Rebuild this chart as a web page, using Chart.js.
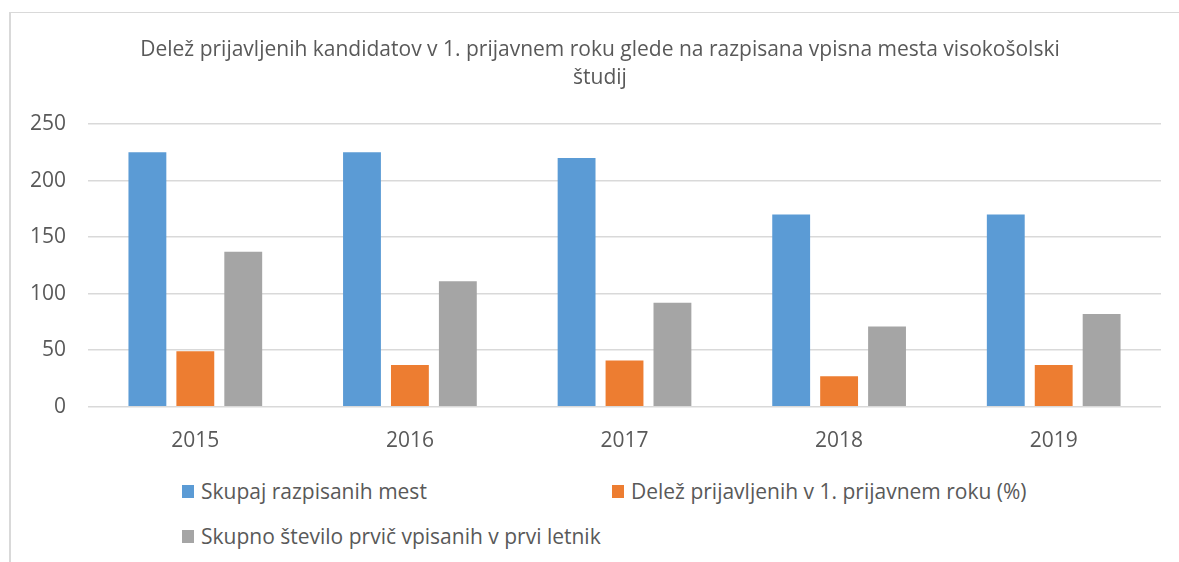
<!DOCTYPE html>
<html>
<head>
<meta charset="utf-8">
<script src="https://cdn.jsdelivr.net/npm/chart.js@4.4.1/dist/chart.umd.min.js"></script>
<style>
    html, body { margin: 0; padding: 0; background: #fff; }
    body { width: 1179px; height: 562px; position: relative; overflow: hidden; font-family: "Open Sans", sans-serif; }
    #frame { position: absolute; left: 9px; top: 12px; right: 0; bottom: -5px; border-left: 2px solid #d9d9d9; border-top: 1px solid #d9d9d9; }
    #title { position: absolute; left: 0; top: 34px; width: 1200px; text-align: center; color: #595959; font-size: 21px; line-height: 28px; }
    #wrap { position: absolute; left: 0; top: 0; width: 1179px; height: 468px; }
    #legend { position: absolute; left: 182px; top: 477px; width: 900px; display: grid; grid-template-columns: 430px 470px; row-gap: 17px; color: #595959; font-size: 21px; }
    .item { display: flex; align-items: center; white-space: nowrap; }
    .box { width: 12px; height: 13px; margin-right: 7px; }
</style>
</head>
<body>
<div id="frame"></div>
<div id="wrap"><canvas id="chart"></canvas></div>
<div id="title"></div>
<div id="legend"></div>
<script>
// Podatki
const years = ['2015', '2016', '2017', '2018', '2019'];
const razpisanaMesta = [225, 225, 220, 170, 170];
const delezPrijavljenih = [49, 37, 41, 27, 37];
const prvicVpisani = [137, 111, 92, 71, 82];
const seriesLabels = [
    'Skupaj razpisanih mest',
    'Delež prijavljenih v 1. prijavnem roku (%)',
    'Skupno število prvič vpisanih v prvi letnik'
];
const seriesColors = ['#5b9bd5', '#ed7d31', '#a5a5a5'];
const yTicks = [0, 50, 100, 150, 200, 250];
const titleLines = [
    'Delež prijavljenih kandidatov v 1. prijavnem roku glede na razpisana vpisna mesta visokošolski',
    'študij'
];

const textColor = '#595959';
const gridColor = '#d9d9d9';

const makeDataset = (i, values) => ({
    label: seriesLabels[i],
    data: values,
    backgroundColor: seriesColors[i],
    borderWidth: 0,
    categoryPercentage: 0.67,
    barPercentage: 0.79
});

const ctx = document.getElementById('chart');
new Chart(ctx, {
    type: 'bar',
    data: {
        labels: years,
        datasets: [
            makeDataset(0, razpisanaMesta),
            makeDataset(1, delezPrijavljenih),
            makeDataset(2, prvicVpisani)
        ]
    },
    options: {
        responsive: true,
        maintainAspectRatio: false,
        animation: false,
        layout: { padding: { left: 8, right: 18, top: 124, bottom: 0 } },
        plugins: {
            legend: { display: false },
            tooltip: { enabled: false },
            title: { display: false }
        },
        scales: {
            x: {
                grid: { display: false },
                border: { display: false },
                ticks: {
                    color: textColor,
                    font: { family: '"Open Sans", sans-serif', size: 21 },
                    padding: 14
                }
            },
            y: {
                min: 0,
                max: 250,
                afterBuildTicks: (axis) => { axis.ticks = yTicks.map(v => ({ value: v })); },
                grid: { color: gridColor, lineWidth: 1.5, drawTicks: false },
                border: { display: false },
                ticks: {
                    color: textColor,
                    font: { family: '"Open Sans", sans-serif', size: 21 },
                    padding: 22
                }
            }
        }
    }
});

// Naslov
document.getElementById('title').innerHTML = titleLines.join('<br>');

// Legenda
const legend = document.getElementById('legend');
seriesLabels.forEach((label, i) => {
    const item = document.createElement('div');
    item.className = 'item';
    item.innerHTML = `<span class="box" style="background:${seriesColors[i]}"></span>${label}`;
    legend.appendChild(item);
});
</script>
</body>
</html>
